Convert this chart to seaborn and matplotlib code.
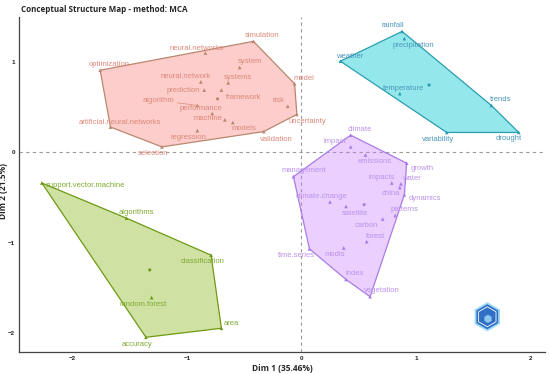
import numpy as np
import pandas as pd
import matplotlib
matplotlib.use('Agg')
import matplotlib.pyplot as plt
import seaborn as sns
from matplotlib.patches import Polygon, RegularPolygon

# -------------------------------------------------------------
# DATA (MCA coordinates)
# -------------------------------------------------------------
red_words = ['simulation', 'neural.networks', 'optimization', 'system', 'neural.network',
             'systems', 'prediction', 'framework', 'algorithm', 'performance', 'model',
             'risk', 'uncertainty', 'machine', 'models', 'validation',
             'artificial.neural.networks', 'regression', 'selection']
red_x = [-0.42, -0.84, -1.76, -0.54, -0.88, -0.64, -0.85, -0.70, -0.91, -0.78, -0.06,
         -0.12, -0.04, -0.67, -0.60, -0.33, -1.67, -0.91, -1.22]
red_y = [1.23, 1.10, 0.91, 0.94, 0.78, 0.77, 0.69, 0.69, 0.52, 0.43, 0.76,
         0.51, 0.42, 0.36, 0.33, 0.23, 0.28, 0.24, 0.06]

cyan_words = ['rainfall', 'precipitation', 'weather', 'temperature', 'trends',
              'variability', 'drought']
cyan_x = [0.88, 0.90, 0.34, 0.86, 1.66, 1.27, 1.90]
cyan_y = [1.34, 1.26, 1.01, 0.65, 0.52, 0.22, 0.22]

purple_words = ['climate', 'impact', 'emissions', 'growth', 'management', 'impacts',
                'water', 'china', 'dynamics', 'climate.change', 'satellite', 'patterns',
                'carbon', 'forest', 'modis', 'time.series', 'index', 'vegetation']
purple_x = [0.43, 0.43, 0.56, 0.92, -0.07, 0.79, 0.87, 0.86, 0.90, 0.25, 0.39, 0.82,
            0.71, 0.57, 0.37, 0.07, 0.39, 0.60]
purple_y = [0.19, 0.06, -0.03, -0.12, -0.27, -0.34, -0.35, -0.39, -0.47, -0.55, -0.60,
            -0.70, -0.74, -0.99, -1.06, -1.07, -1.41, -1.60]

green_words = ['support.vector.machine', 'algorithms', 'classification', 'random.forest',
               'area', 'accuracy']
green_x = [-2.27, -1.53, -0.79, -1.31, -0.70, -1.36]
green_y = [-0.34, -0.73, -1.14, -1.61, -1.95, -2.05]

dim1_pct = 35.46
dim2_pct = 21.5

# label offsets in pixels (right, down) as placed by the repel layout
label_offsets = {
    'simulation': (9, -6), 'neural.networks': (-9, -5), 'optimization': (9, -6),
    'system': (10, -6), 'neural.network': (-15, -5), 'systems': (10, -5),
    'prediction': (-21, 0), 'framework': (22, 7), 'algorithm': (-39, -5),
    'performance': (-11, -5), 'model': (9, -5), 'risk': (-9, -6),
    'uncertainty': (10, 7), 'machine': (-17, -1), 'models': (11, 6),
    'validation': (13, 8), 'artificial.neural.networks': (9, -5),
    'regression': (-9, 7), 'selection': (-9, 7),
    'rainfall': (-9, -6), 'precipitation': (9, 7), 'weather': (9, -5),
    'temperature': (4, -5), 'trends': (9, -6), 'variability': (-9, 7), 'drought': (-10, 6),
    'climate': (9, -6), 'impact': (-16, -5), 'emissions': (9, 6), 'growth': (16, 5),
    'management': (10, -6), 'impacts': (-10, -5), 'water': (10, -5), 'china': (-9, 6),
    'dynamics': (20, 4), 'climate.change': (-9, -5), 'satellite': (9, 7),
    'patterns': (9, -6), 'carbon': (-16, 6), 'forest': (9, -5), 'modis': (-9, 7),
    'time.series': (-13, 7), 'index': (9, -6), 'vegetation': (12, -6),
    'support.vector.machine': (44, 3), 'algorithms': (10, -6),
    'classification': (-9, 6), 'random.forest': (-9, 7), 'area': (10, -5),
    'accuracy': (-9, 7),
}

clusters = {
    'red': (red_words, red_x, red_y),
    'green': (green_words, green_x, green_y),
    'cyan': (cyan_words, cyan_x, cyan_y),
    'purple': (purple_words, purple_x, purple_y),
}
fill_colors = {'red': '#F8766D', 'green': '#7CAE00', 'cyan': '#00C8D0', 'purple': '#C77CFF'}
edge_colors = {'red': '#B9876E', 'green': '#6E9A14', 'cyan': '#2A9DB2', 'purple': '#A97BE6'}
text_colors = {'red': '#DC8878', 'green': '#7EAA30', 'cyan': '#4A96B8', 'purple': '#BC92EA'}
fill_alpha = {'red': 0.36, 'green': 0.36, 'cyan': 0.42, 'purple': 0.36}

rows = []
for name, (words, xs, ys) in clusters.items():
    for w, x, y in zip(words, xs, ys):
        rows.append({'word': w, 'x': x, 'y': y, 'cluster': name})
df = pd.DataFrame(rows)
centroids = df.groupby('cluster', sort=False)[['x', 'y']].mean().reset_index()


def convex_hull(points):
    pts = sorted(set(points))
    def cross(o, a, b):
        return (a[0] - o[0]) * (b[1] - o[1]) - (a[1] - o[1]) * (b[0] - o[0])
    lower, upper = [], []
    for p in pts:
        while len(lower) >= 2 and cross(lower[-2], lower[-1], p) <= 0:
            lower.pop()
        lower.append(p)
    for p in reversed(pts):
        while len(upper) >= 2 and cross(upper[-2], upper[-1], p) <= 0:
            upper.pop()
        upper.append(p)
    return lower[:-1] + upper[:-1]


# -------------------------------------------------------------
# PLOT
# -------------------------------------------------------------
sns.set_style('white')
plt.rcParams['font.family'] = ['Liberation Sans', 'DejaVu Sans']

fig = plt.figure(figsize=(5.5, 3.74), dpi=100)
ax = fig.add_axes([0.0345, 0.0596, 0.9565, 0.895])

for name, (words, xs, ys) in clusters.items():
    hull = convex_hull(list(zip(xs, ys)))
    ax.add_patch(Polygon(hull, closed=True, facecolor=fill_colors[name], alpha=fill_alpha[name],
                         edgecolor='none', zorder=1))
    ax.add_patch(Polygon(hull, closed=True, facecolor='none',
                         edgecolor=edge_colors[name], lw=0.9, zorder=2))

ax.axhline(0, color='#9a9a9a', ls=(0, (3, 3)), lw=0.8, zorder=0)
ax.axvline(0, color='#9a9a9a', ls=(0, (3, 3)), lw=0.8, zorder=0)

sns.scatterplot(data=df, x='x', y='y', hue='cluster', palette=edge_colors, marker='^',
                s=7, linewidth=0, legend=False, ax=ax, zorder=3)
sns.scatterplot(data=centroids, x='x', y='y', hue='cluster', palette=edge_colors,
                marker='o', s=5, linewidth=0, legend=False, ax=ax, zorder=3)

for _, r in df.iterrows():
    dx, dy = label_offsets[r['word']]
    kw = {}
    if r['word'] == 'algorithm':
        kw['arrowprops'] = dict(arrowstyle='-', color=text_colors[r['cluster']], lw=0.5,
                                shrinkA=0, shrinkB=1)
    ax.annotate(r['word'], (r['x'], r['y']), xytext=(dx * 0.72, -dy * 0.72),
                textcoords='offset points', ha='center', va='center', fontsize=5.5,
                color=text_colors[r['cluster']], zorder=4, **kw)

ax.set_xlim(-2.47, 2.13)
ax.set_ylim(-2.21, 1.5)
ax.set_xticks([-2, -1, 0, 1, 2])
ax.set_yticks([-2, -1, 0, 1])
ax.tick_params(axis='both', labelsize=4.5, length=0, pad=3, colors='#222222')
for lab in ax.get_xticklabels() + ax.get_yticklabels():
    lab.set_fontweight('bold')
sns.despine(ax=ax)
for s in ['left', 'bottom']:
    ax.spines[s].set_color('#444444')
    ax.spines[s].set_linewidth(0.9)

ax.set_xlabel(f'Dim 1 ({dim1_pct}%)', fontsize=6, fontweight='bold', labelpad=2,
              family=['Open Sans', 'DejaVu Sans'])
ax.set_ylabel(f'Dim 2 ({dim2_pct}%)', fontsize=6, fontweight='bold',
              family=['Open Sans', 'DejaVu Sans'])
ax.yaxis.set_label_coords(-0.021, 0.48)
fig.text(0.038, 0.975, 'Conceptual Structure Map - method: MCA', fontsize=5.8,
         fontweight='bold', ha='left', va='center', family=['Open Sans', 'DejaVu Sans'])

# small hexagon badge in the lower right corner
lax = fig.add_axes([0.858, 0.112, 0.056, 0.082])
lax.set_aspect('equal')
lax.axis('off')
lax.set_xlim(-1.1, 1.1)
lax.set_ylim(-1.1, 1.1)
lax.add_patch(RegularPolygon((0, 0), 6, radius=1.05, facecolor='#9fd9f5', edgecolor='none'))
lax.add_patch(RegularPolygon((0, 0), 6, radius=0.9, facecolor='#2f6fc4', edgecolor='none'))
lax.add_patch(RegularPolygon((0, 0), 6, radius=0.72, facecolor='none', edgecolor='white', lw=0.6))
lax.add_patch(RegularPolygon((0.05, -0.15), 6, radius=0.3, facecolor='#8fc6f0', edgecolor='none'))

fig.savefig('out.png', dpi=100)
